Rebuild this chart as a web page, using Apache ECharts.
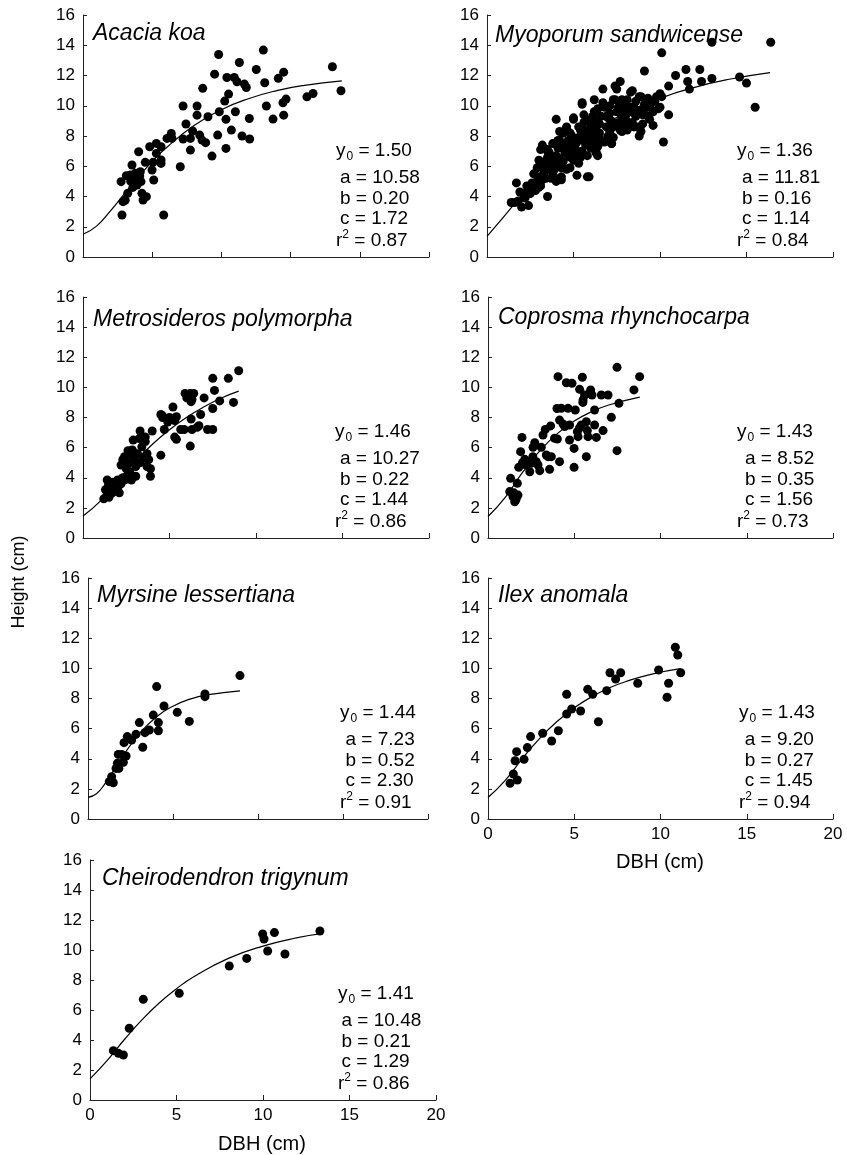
<!DOCTYPE html>
<html>
<head>
<meta charset="utf-8">
<script src="https://cdn.jsdelivr.net/npm/echarts@6/dist/echarts.min.js"></script>
<style>
  html, body { margin: 0; padding: 0; background: #fff; }
  #myChart { width: 847px; height: 1155px; }
</style>
</head>
<body>
<div id="myChart"></div>
<script>
// species, in panel order
const species = ['Acacia koa', 'Myoporum sandwicense', 'Metrosideros polymorpha',
  'Coprosma rhynchocarpa', 'Myrsine lessertiana', 'Ilex anomala', 'Cheirodendron trigynum'];

// fitted parameters printed in each panel
const y0Vals = ['1.50', '1.36', '1.46', '1.43', '1.44', '1.43', '1.41'];
const aVals  = ['10.58', '11.81', '10.27', '8.52', '7.23', '9.20', '10.48'];
const bVals  = ['0.20', '0.16', '0.22', '0.35', '0.52', '0.27', '0.21'];
const cVals  = ['1.72', '1.14', '1.44', '1.56', '2.30', '1.45', '1.29'];
const r2Vals = ['0.87', '0.84', '0.86', '0.73', '0.91', '0.94', '0.86'];

// observed trees [DBH, height]
const acaciaPts = [[2.75,4.98],[2.89,3.66],[2.82,2.78],[3.05,3.75],[3.23,4.21],[3.13,5.37],[3.54,6.08],[3.42,5.42],
  [3.66,4.98],[3.78,5.53],[4.02,6.96],[3.90,4.76],[4.14,5.64],[4.19,4.98],[4.26,4.21],[4.34,3.77],[4.58,3.99],
  [4.50,6.26],[4.82,7.29],[4.99,5.75],[5.06,6.26],[5.11,5.09],[5.30,7.51],[5.30,6.85],[5.64,7.29],[5.64,6.41],
  [5.64,6.19],[5.83,2.78],[6.07,7.84],[6.38,8.17],[6.43,7.84],[7.03,5.97],[7.23,9.98],[7.23,7.80],[7.44,8.79],
  [7.76,7.07],[7.76,7.84],[7.92,8.33],[8.24,9.98],[8.24,9.38],[8.43,8.06],[8.65,11.15],[8.60,7.73],[8.86,7.56],
  [9.03,9.27],[9.32,6.67],[9.51,12.09],[9.73,8.06],[9.80,13.39],[9.85,9.60],[10.24,10.31],[10.33,7.18],[10.33,9.10],
  [10.40,11.87],[10.52,10.77],[10.72,8.39],[10.93,11.87],[11.01,9.60],[11.13,11.59],[11.30,12.86],[11.49,8.00],
  [11.66,11.43],[11.80,11.21],[12.02,9.16],[12.04,7.80],[12.52,12.40],[13.03,13.68],[13.13,11.52],[13.25,9.98],
  [13.73,9.12],[14.11,11.81],[14.50,12.22],[14.50,9.38],[14.45,10.20],[14.67,10.44],[16.18,10.59],[16.62,10.81],
  [18.02,12.58],[18.64,10.99],[3.45,5.0],[3.85,5.2],[4.1,5.35],[3.6,4.6]];

const myoporumPts = [[1.6,3.6],[1.8,3.7],[2.0,3.3],[2.4,3.4],[1.7,4.9],[1.9,4.3],[2.3,4.7],[2.2,3.9],[2.5,4.2],[2.6,4.9],
  [2.8,4.4],[3.1,4.7],[3.5,4.0],[3.0,5.3],[2.9,5.9],[3.1,6.3],[3.0,6.4],[3.3,5.6],[3.2,5.1],[3.4,5.2],[3.1,7.1],[3.2,7.4],
  [3.5,7.0],[3.5,6.4],[3.7,6.0],[3.8,5.5],[3.9,6.3],[4.0,6.7],[3.8,7.5],[4.1,7.7],[4.2,8.3],[4.3,5.1],[4.3,5.3],[4.3,5.9],
  [4.6,5.8],[4.4,7.2],[4.6,8.6],[4.0,9.1],[4.8,8.2],[4.9,7.5],[4.7,6.7],[5.0,6.4],[5.0,9.2],[5.1,7.2],[5.2,5.4],[5.4,6.6],
  [5.3,7.9],[5.4,8.4],[5.6,8.9],[5.5,10.1],[5.7,7.4],[5.8,8.0],[5.9,5.3],[6.0,8.6],[6.1,9.3],[6.2,9.6],[6.2,10.4],[6.3,7.0],
  [6.4,6.7],[6.5,8.2],[6.6,9.3],[6.7,11.1],[6.8,7.6],[6.8,9.9],[6.9,8.6],[7.1,9.5],[7.2,7.5],[7.4,8.8],[7.3,10.4],[7.4,11.3],
  [7.6,9.9],[7.7,8.4],[7.8,9.3],[7.8,10.4],[8.0,9.1],[8.2,8.6],[8.3,10.9],[8.4,9.6],
  [3.5,7.1],[3.5,6.6],[3.6,5.8],[3.8,6.4],[4.1,7.2],[4.2,7.7],[4.4,8.2],[4.6,8.5],[4.5,6.9],[4.7,7.7],[4.9,7.3],[4.8,6.6],
  [5.3,6.2],[5.4,6.6],[5.6,8.4],[5.6,7.7],[5.9,7.5],[6.0,8.2],[4.2,5.2],[4.0,5.0],[5.0,9.1],
  [6.3,9.0],[6.1,8.5],[6.5,7.9],[6.2,7.7],[6.3,6.9],[6.4,7.3],[7.0,9.2],[7.1,8.3],[7.3,8.6],[7.4,10.4],[7.7,10.3],[7.8,9.3],
  [7.8,8.3],[8.1,10.4],[8.2,8.6],[8.3,9.7],[8.5,9.9],[8.7,8.6],[8.9,10.6],[9.2,10.4],[9.3,9.3],[9.4,9.9],[9.6,8.7],[9.9,9.8],
  [7.2,7.5],[7.5,11.1],[7.7,11.6],[8.8,8.0],[5.5,10.2],[5.8,5.3],
  [10.1,13.5],[13.0,14.2],[16.4,14.2],[9.1,12.3],[10.9,12.0],[11.5,12.4],[12.3,12.4],[11.6,11.6],[12.4,11.6],[13.0,11.8],
  [11.7,11.1],[10.5,11.3],[10.1,10.6],[10.0,10.8],[8.4,11.0],[14.6,11.9],[15.0,11.5],[15.5,9.9],[10.5,9.4],[10.2,7.6],
  [8.8,10.6],[9.3,10.5],[9.5,10.2],[9.1,9.8],[9.6,9.6],[9.4,9.1],[8.8,9.7],[8.6,9.3],[9.0,8.8],[8.9,8.3],[8.5,8.6],
  [8.1,8.4],[8.0,9.1],[7.9,9.7],[7.7,10.2],[8.3,9.9],[10.0,9.9],[9.7,10.3],
  [2.7,5.5],[2.9,5.0],[3.3,6.0],[3.6,6.9],[3.7,5.2],[3.9,5.8],[4.1,6.1],[4.2,6.5],[4.4,6.3],[4.5,7.5],[4.7,7.1],[4.8,5.9],
  [4.9,8.0],[5.1,6.8],[5.2,7.6],[5.3,8.6],[5.5,7.0],[5.6,9.4],[5.7,8.2],[5.8,6.7],[5.9,9.0],[6.0,7.2],[6.1,8.0],[6.3,8.4],
  [6.4,9.8],[6.5,8.8],[6.6,7.6],[6.7,10.2],[6.9,9.3],[7.0,8.0],[7.1,10.0],[7.2,9.0],[7.3,7.9],[7.5,9.6],[7.6,8.9],[7.9,8.8],
  [8.0,10.0],[8.1,9.5],[8.4,8.9],[8.6,10.3],[8.7,9.5],[9.0,9.4],[9.1,10.1],[9.8,10.6],[3.0,4.6],[2.4,4.5],[2.1,4.2],[1.4,3.6]];

const metrosiderosPts = [[1.2,2.6],[1.4,2.9],[1.5,2.7],[1.6,3.1],[1.45,3.4],[1.4,3.85],[1.5,3.6],[1.7,3.7],[1.8,3.4],
  [1.9,3.6],[2.0,3.3],[2.1,3.0],[2.0,3.85],[2.2,3.6],[2.4,3.85],[2.6,4.1],[2.8,3.85],[2.2,4.85],[2.3,5.2],[2.4,5.4],
  [2.5,4.6],[2.6,5.0],[2.7,4.4],[2.8,5.5],[2.9,6.5],[2.85,5.85],[2.95,5.2],[3.05,4.75],[3.05,4.1],[3.15,5.6],[3.25,6.6],
  [3.3,7.1],[3.4,6.05],[3.5,5.3],[3.6,6.7],[3.6,6.4],[3.7,5.6],[3.7,4.75],[3.8,5.2],[3.9,4.6],[3.9,4.1],[4.0,7.1],
  [4.5,5.5],[4.5,8.2],[4.6,8.1],[4.7,7.2],[4.9,7.7],[5.0,8.0],[5.2,8.7],[5.3,7.8],[5.4,8.05],[5.3,6.7],[5.4,6.55],
  [5.65,7.2],[5.85,7.2],[5.9,9.6],[6.0,9.3],[6.2,9.6],[6.25,9.05],[6.3,9.2],[6.2,6.1],[6.25,7.9],[6.3,7.2],[6.6,7.35],
  [6.7,7.45],[6.8,8.2],[7.0,9.3],[7.2,7.2],[7.5,7.2],[7.5,8.6],[7.5,10.6],[7.6,9.8],[7.9,9.1],[8.4,10.6],[8.7,9.0],
  [9.0,11.1],[1.3,3.2],[1.7,3.0],[2.3,4.0],[3.3,5.0],[2.6,5.8],[6.1,9.5],[6.4,9.6],[4.6,8.0],[3.5,6.6]];

const coprosmaPts = [[1.26,3.08],[1.45,2.74],[1.64,2.63],[1.55,2.41],[1.74,2.85],[1.31,3.96],[1.70,3.63],[1.78,4.69],
  [1.89,5.73],[1.97,6.68],[2.13,5.22],[2.22,4.85],[2.32,5.07],[2.42,4.40],[2.51,4.96],[2.61,6.02],[2.71,6.33],[2.80,5.07],
  [2.90,4.85],[3.00,4.47],[3.09,6.02],[3.19,6.84],[3.32,7.21],[3.38,5.51],[3.48,5.40],[3.57,4.56],[3.63,7.44],[3.67,5.40],
  [3.86,6.62],[4.02,6.57],[4.15,5.07],[4.06,10.71],[4.15,7.83],[4.25,8.61],[4.35,7.57],[4.54,10.31],[4.64,8.61],[4.73,7.50],
  [4.73,6.51],[4.87,10.27],[4.99,5.95],[4.99,4.69],[5.06,8.50],[5.18,7.06],[5.22,6.73],[5.31,9.87],[5.41,7.50],[5.47,10.67],
  [5.51,9.16],[5.60,9.49],[5.70,7.72],[5.76,7.13],[5.80,6.73],[5.70,5.40],[5.95,9.83],[6.03,9.49],[6.18,8.50],[6.18,7.50],
  [6.28,6.68],[6.67,7.13],[6.57,9.49],[6.96,9.49],[7.15,8.01],[7.48,11.33],[7.48,5.80],[7.59,8.94],[8.46,9.83],[8.79,10.71],
  [1.5,3.0],[1.6,2.5],[2.6,5.4],[5.5,9.0],[5.9,9.6],[4.0,8.6],[4.45,7.4],[5.3,7.3],[2.0,5.0]];

const myrsinePts = [[1.25,2.48],[1.49,2.41],[1.39,2.81],[1.65,3.36],[1.82,3.36],[1.73,3.70],[1.78,4.29],[1.98,4.29],
  [2.08,3.76],[2.24,4.18],[2.12,5.07],[2.31,5.47],[2.57,5.24],[2.82,5.62],[3.02,6.40],[3.22,4.76],[3.35,5.73],[3.61,5.91],
  [3.84,6.90],[4.04,8.79],[4.14,6.40],[4.14,5.86],[4.47,7.50],[5.25,7.08],[5.96,6.48],[6.88,8.30],[6.88,8.12],[8.94,9.52]];

const ilexPts = [[1.28,2.37],[1.47,2.99],[1.57,3.87],[1.70,2.59],[1.66,4.47],[2.09,3.96],[2.28,4.74],[2.47,5.47],
  [3.17,5.69],[3.69,5.18],[4.08,5.86],[4.56,6.97],[4.56,8.28],[4.85,7.30],[5.37,7.17],[5.78,8.61],[6.07,8.28],[6.40,6.46],
  [6.88,8.52],[7.07,9.71],[7.40,9.29],[7.69,9.71],[8.68,9.01],[9.89,9.89],[10.38,8.08],[10.47,9.01],[10.86,11.40],
  [11.00,10.89],[11.17,9.71]];

const cheirodendronPts = [[1.35,3.29],[1.64,3.11],[1.93,3.0],[2.27,4.78],[3.08,6.71],[5.16,7.11],[8.05,8.93],[9.06,9.44],
  [9.98,11.07],[10.06,10.73],[10.27,9.93],[10.66,11.16],[11.27,9.73],[13.29,11.27]];

// fitted curves [DBH, height]
const acaciaFit = [[0,1.50],[1,2.06],[2,3.07],[3,4.19],[4,5.29],[5,6.31],[6,7.21],[8,8.68],[10,9.74],[12,10.48],[14,11.00],[16,11.35],[18.7,11.65]];
const myoporumFit = [[0,1.36],[1,2.70],[2,4.06],[3,5.29],[4,6.39],[6,8.17],[8,9.51],[10,10.49],[12,11.22],[14,11.75],[16.36,12.19]];
const metrosiderosFit = [[0,1.46],[1,2.45],[2,3.78],[3,5.06],[4,6.21],[5,7.19],[6,8.02],[7,8.71],[8,9.29],[9,9.75]];
const coprosmaFit = [[0,1.43],[1,2.70],[2,4.35],[3,5.78],[4,6.91],[5,7.76],[6,8.38],[7,8.83],[8.8,9.35]];
const myrsineFit = [[0,1.44],[0.5,1.68],[1,2.35],[1.5,3.20],[2,4.09],[3,5.64],[4,6.76],[5,7.49],[6,7.96],[7,8.24],[8.94,8.51]];
const ilexFit = [[0,1.43],[1,2.57],[2,4.02],[3,5.35],[4,6.47],[5,7.38],[6,8.11],[7,8.69],[8,9.13],[9.5,9.62],[11.17,9.98]];
const cheirodendronFit = [[0,1.41],[1,2.64],[2,4.05],[3,5.34],[4,6.47],[5,7.42],[6,8.22],[8,9.44],[10,10.26],[12,10.82],[13.3,11.07]];

const points = [acaciaPts, myoporumPts, metrosiderosPts, coprosmaPts, myrsinePts, ilexPts, cheirodendronPts];
const fits = [acaciaFit, myoporumFit, metrosiderosFit, coprosmaFit, myrsineFit, ilexFit, cheirodendronFit];

// panel placement
const layout = [
  { left: 83,  top: 15,  width: 346, height: 242, xMax: 25, showX: false, labelDx: 10, labelDy: 19, statsX: 336, indent: 4 },
  { left: 487, top: 15,  width: 346, height: 242, xMax: 20, showX: false, labelDx: 8,  labelDy: 21, statsX: 737, indent: 5 },
  { left: 83,  top: 297, width: 346, height: 241, xMax: 20, showX: false, labelDx: 10, labelDy: 23, statsX: 335, indent: 5 },
  { left: 488, top: 297, width: 345, height: 241, xMax: 20, showX: false, labelDx: 10, labelDy: 21, statsX: 737, indent: 8 },
  { left: 88,  top: 578, width: 340, height: 241, xMax: 20, showX: false, labelDx: 9,  labelDy: 18, statsX: 340, indent: 5.5 },
  { left: 488, top: 578, width: 345, height: 241, xMax: 20, showX: true,  labelDx: 10, labelDy: 18, statsX: 739, indent: 5.7 },
  { left: 90,  top: 860, width: 346, height: 240, xMax: 20, showX: true,  labelDx: 12, labelDy: 19, statsX: 338, indent: 3.5 }
];

const FONT = '"Liberation Sans", Arial, Helvetica, sans-serif';
const INK = '#000';
const AXIS = '#222';

let grids = [], xAxes = [], yAxes = [], series = [], graphics = [];

layout.forEach(function (p, i) {
  grids.push({ left: p.left, top: p.top, width: p.width, height: p.height, outerBoundsMode: 'none' });

  xAxes.push({
    gridIndex: i, type: 'value', min: 0, max: p.xMax, interval: 5,
    axisLine: { show: true, onZero: false, lineStyle: { color: AXIS, width: 1 } },
    axisTick: { show: true, inside: true, length: 5, lineStyle: { color: AXIS } },
    axisLabel: { show: p.showX, fontSize: 17, color: INK, fontFamily: FONT, margin: 7 },
    splitLine: { show: false }
  });
  yAxes.push({
    gridIndex: i, type: 'value', min: 0, max: 16, interval: 2,
    axisLine: { show: true, onZero: false, lineStyle: { color: AXIS, width: 1 } },
    axisTick: { show: true, inside: true, length: 4, lineStyle: { color: AXIS } },
    axisLabel: { show: true, fontSize: 17, color: INK, fontFamily: FONT, margin: 8 },
    splitLine: { show: false }
  });

  series.push({
    type: 'scatter', xAxisIndex: i, yAxisIndex: i, data: points[i],
    symbol: 'circle', symbolSize: 9, itemStyle: { color: INK, opacity: 1 }, silent: true
  });
  series.push({
    type: 'line', xAxisIndex: i, yAxisIndex: i, data: fits[i],
    smooth: true, showSymbol: false, lineStyle: { color: INK, width: 1.2 }, silent: true
  });

  // species name
  graphics.push({
    type: 'text', x: p.left + p.labelDx, y: p.top + p.labelDy,
    style: { text: species[i], fill: INK, fontSize: 23, fontStyle: 'italic', fontFamily: FONT,
      textAlign: 'left', verticalAlign: 'middle', textVerticalAlign: 'middle' }
  });

  // fit statistics
  const base = p.top + p.height;
  const rich = {
    n: { fontSize: 19, fontFamily: FONT, fill: INK },
    sub: { fontSize: 12, fontFamily: FONT, fill: INK, padding: [12, 0, 0, 1] },
    sup: { fontSize: 12, fontFamily: FONT, fill: INK, padding: [0, 0, 12, 0] }
  };
  const lines = [
    { dx: 0, dy: -106, text: '{n|y}{sub|0}{n| = ' + y0Vals[i] + '}' },
    { dx: p.indent, dy: -79, text: '{n|a = ' + aVals[i] + '}' },
    { dx: p.indent, dy: -58.5, text: '{n|b = ' + bVals[i] + '}' },
    { dx: p.indent, dy: -38.5, text: '{n|c = ' + cVals[i] + '}' },
    { dx: 0, dy: -16, text: '{n|r}{sup|2}{n| = ' + r2Vals[i] + '}' }
  ];
  lines.forEach(function (ln) {
    graphics.push({
      type: 'text', x: p.statsX + ln.dx, y: base + ln.dy,
      style: { text: ln.text, rich: rich, fill: INK, fontSize: 19, fontFamily: FONT,
        textAlign: 'left', verticalAlign: 'middle', textVerticalAlign: 'middle' }
    });
  });
});

// shared axis titles
graphics.push({
  type: 'text', x: 19, y: 582, rotation: Math.PI / 2,
  style: { text: 'Height (cm)', fill: INK, fontSize: 18, fontFamily: FONT,
    textAlign: 'center', verticalAlign: 'middle', textVerticalAlign: 'middle' }
});
graphics.push({
  type: 'text', x: 660, y: 862,
  style: { text: 'DBH (cm)', fill: INK, fontSize: 20, fontFamily: FONT,
    textAlign: 'center', verticalAlign: 'middle', textVerticalAlign: 'middle' }
});
graphics.push({
  type: 'text', x: 262, y: 1144,
  style: { text: 'DBH (cm)', fill: INK, fontSize: 20, fontFamily: FONT,
    textAlign: 'center', verticalAlign: 'middle', textVerticalAlign: 'middle' }
});

let myChart = echarts.init(document.getElementById('myChart'), null, { renderer: 'canvas' });
myChart.setOption({
  backgroundColor: '#fff',
  animation: false,
  grid: grids,
  xAxis: xAxes,
  yAxis: yAxes,
  series: series,
  graphic: graphics
});
</script>
</body>
</html>
